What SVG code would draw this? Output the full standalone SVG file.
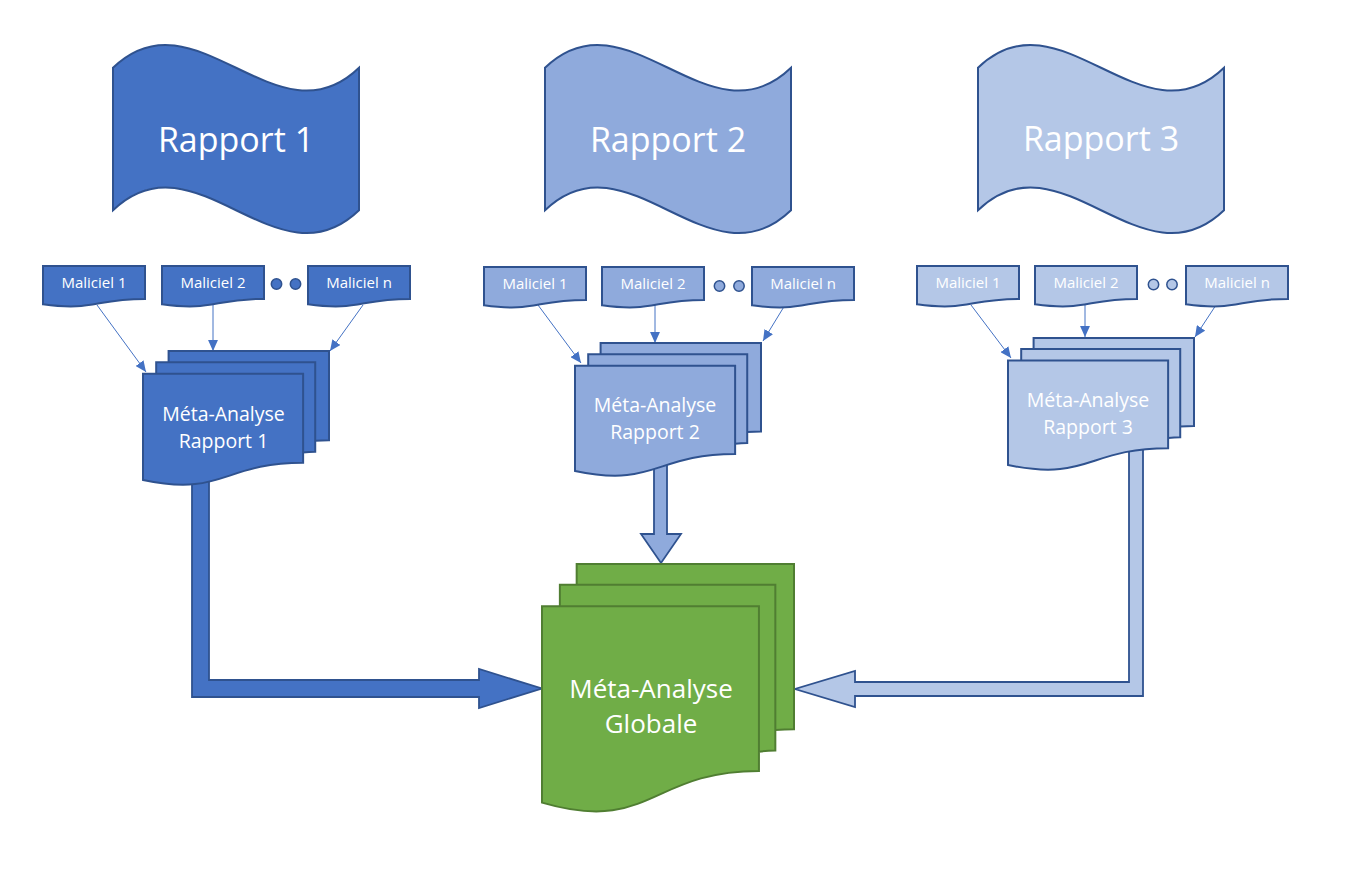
<svg xmlns="http://www.w3.org/2000/svg" xmlns:xlink="http://www.w3.org/1999/xlink" width="1352" height="875" viewBox="0 0 1352 875">
  <defs>
    <style>
      .outline { stroke: #2F528F; stroke-width: 2; stroke-linejoin: miter; }
      .green { fill: #70AD47; stroke: #507E32; stroke-width: 2; }
      .c1 { fill: #4472C4; }
      .c2 { fill: #8FAADC; }
      .c3 { fill: #B4C7E7; }
      .ns { vector-effect: non-scaling-stroke; }
      .big { font-family: 'Open Sans', 'Noto Sans', sans-serif; font-size: 34px; fill: #FFFFFF; text-anchor: middle; }
      .mid { font-family: 'Open Sans', 'Noto Sans', sans-serif; font-size: 19.5px; fill: #FFFFFF; text-anchor: middle; }
      .glob { font-family: 'Open Sans', 'Noto Sans', sans-serif; font-size: 26px; fill: #FFFFFF; text-anchor: middle; }
      .small { font-family: 'Open Sans', 'Noto Sans', sans-serif; font-size: 15px; fill: #FFFFFF; text-anchor: middle; }
      .thin { stroke: #4472C4; stroke-width: 1; fill: none; }
      .block { stroke: #2F528F; stroke-width: 1.8; stroke-linejoin: miter; }
    </style>
    <path id="wave" d="M0,67.75 C82,-11.4 164,146.9 246,67.75 L246,210.25 C164,289.4 82,131 0,210.25 Z"/>
    <path id="doc" d="M0,0 L102,0 L102,32.9 C51,32.9 51,45.4 0,38.3 Z"/>
    <marker id="ah" markerUnits="userSpaceOnUse" markerWidth="11" markerHeight="10" refX="10" refY="4.5" orient="auto" viewBox="0 0 10 9">
      <path d="M0,0 L10,4.5 L0,9 Z" fill="#4472C4"/>
    </marker>
  </defs>

  <g id="connectors">
    <polygon class="block c1" points="192,470 209,470 209,680 479,680 479,669 542,688.5 479,708 479,697 192,697"/>
    <polygon class="block c2" points="654,460 667,460 667,534 681,534 661,563 641,534 654,534"/>
    <polygon class="block c3" points="1129,445 1143,445 1143,682 1143,696 855,696 855,707 795,689 855,671 855,682 1129,682"/>
    <line class="thin" x1="97" y1="305" x2="146" y2="372" marker-end="url(#ah)"/>
    <line class="thin" x1="213" y1="305" x2="213" y2="351" marker-end="url(#ah)"/>
    <line class="thin" x1="363" y1="305" x2="330" y2="351" marker-end="url(#ah)"/>
    <line class="thin" x1="538" y1="305" x2="581" y2="363" marker-end="url(#ah)"/>
    <line class="thin" x1="655" y1="305" x2="655" y2="343" marker-end="url(#ah)"/>
    <line class="thin" x1="785" y1="305" x2="763" y2="341" marker-end="url(#ah)"/>
    <line class="thin" x1="971" y1="305" x2="1011" y2="358" marker-end="url(#ah)"/>
    <line class="thin" x1="1085" y1="305" x2="1085" y2="337" marker-end="url(#ah)"/>
    <line class="thin" x1="1216" y1="305" x2="1195" y2="337" marker-end="url(#ah)"/>
  </g>

  <g id="rapport1">
    <use xlink:href="#wave" href="#wave" x="113" y="0" class="outline c1"/>
    <text class="big" x="236" y="152">Rapport 1</text>
  </g>
  <g id="rapport2">
    <use xlink:href="#wave" href="#wave" x="545" y="0" class="outline c2"/>
    <text class="big" x="668" y="152">Rapport 2</text>
  </g>
  <g id="rapport3">
    <use xlink:href="#wave" href="#wave" x="978" y="0" class="outline c3"/>
    <text class="big" x="1101" y="151">Rapport 3</text>
  </g>

  <g id="r1-maliciel1">
    <use xlink:href="#doc" href="#doc" x="43" y="266" class="outline c1"/>
    <text class="small" x="94" y="288">Maliciel 1</text>
  </g>
  <g id="r1-maliciel2">
    <use xlink:href="#doc" href="#doc" x="162" y="266" class="outline c1"/>
    <text class="small" x="213" y="288">Maliciel 2</text>
  </g>
  <g id="r1-dots">
    <circle cx="276.5" cy="284" r="5.2" class="c1" stroke="#2F528F" stroke-width="1.5"/>
    <circle cx="295.5" cy="284" r="5.2" class="c1" stroke="#2F528F" stroke-width="1.5"/>
  </g>
  <g id="r1-malicieln">
    <use xlink:href="#doc" href="#doc" x="308" y="266" class="outline c1"/>
    <text class="small" x="359" y="288">Maliciel n</text>
  </g>

  <g id="r2-maliciel1">
    <use xlink:href="#doc" href="#doc" x="484" y="267" class="outline c2"/>
    <text class="small" x="535" y="289">Maliciel 1</text>
  </g>
  <g id="r2-maliciel2">
    <use xlink:href="#doc" href="#doc" x="602" y="267" class="outline c2"/>
    <text class="small" x="653" y="289">Maliciel 2</text>
  </g>
  <g id="r2-dots">
    <circle cx="719.5" cy="286" r="5.2" class="c2" stroke="#2F528F" stroke-width="1.5"/>
    <circle cx="739" cy="286" r="5.2" class="c2" stroke="#2F528F" stroke-width="1.5"/>
  </g>
  <g id="r2-malicieln">
    <use xlink:href="#doc" href="#doc" x="752" y="267" class="outline c2"/>
    <text class="small" x="803" y="289">Maliciel n</text>
  </g>

  <g id="r3-maliciel1">
    <use xlink:href="#doc" href="#doc" x="917" y="266" class="outline c3"/>
    <text class="small" x="968" y="288">Maliciel 1</text>
  </g>
  <g id="r3-maliciel2">
    <use xlink:href="#doc" href="#doc" x="1035" y="266" class="outline c3"/>
    <text class="small" x="1086" y="288">Maliciel 2</text>
  </g>
  <g id="r3-dots">
    <circle cx="1153.5" cy="284.5" r="5.2" class="c3" stroke="#2F528F" stroke-width="1.5"/>
    <circle cx="1172" cy="284.5" r="5.2" class="c3" stroke="#2F528F" stroke-width="1.5"/>
  </g>
  <g id="r3-malicieln">
    <use xlink:href="#doc" href="#doc" x="1186" y="266" class="outline c3"/>
    <text class="small" x="1237" y="288">Maliciel n</text>
  </g>

  <g id="meta1">
    <path class="outline c1 ns" transform="translate(143,351) scale(0.0086111,0.0062037)" d="M0,20782 C9298,23542 9298,18022 18595,18022 L18595,3675 L0,3675 Z M1532,3675 L1532,1815 L20000,1815 L20000,16252 C19298,16252 18595,16352 18595,16352 L18595,3675 Z M2972,1815 L2972,0 L21600,0 L21600,14392 C20800,14392 20000,14467 20000,14467 L20000,1815 Z"/>
    <text class="mid" x="223.5" y="421">Méta-Analyse</text>
    <text class="mid" x="223.5" y="448">Rapport 1</text>
  </g>
  <g id="meta2">
    <path class="outline c2 ns" transform="translate(575,343) scale(0.0086111,0.0061574)" d="M0,20782 C9298,23542 9298,18022 18595,18022 L18595,3675 L0,3675 Z M1532,3675 L1532,1815 L20000,1815 L20000,16252 C19298,16252 18595,16352 18595,16352 L18595,3675 Z M2972,1815 L2972,0 L21600,0 L21600,14392 C20800,14392 20000,14467 20000,14467 L20000,1815 Z"/>
    <text class="mid" x="655" y="412">Méta-Analyse</text>
    <text class="mid" x="655" y="439">Rapport 2</text>
  </g>
  <g id="meta3">
    <path class="outline c3 ns" transform="translate(1008,338) scale(0.0086111,0.0061111)" d="M0,20782 C9298,23542 9298,18022 18595,18022 L18595,3675 L0,3675 Z M1532,3675 L1532,1815 L20000,1815 L20000,16252 C19298,16252 18595,16352 18595,16352 L18595,3675 Z M2972,1815 L2972,0 L21600,0 L21600,14392 C20800,14392 20000,14467 20000,14467 L20000,1815 Z"/>
    <text class="mid" x="1088" y="407">Méta-Analyse</text>
    <text class="mid" x="1088" y="434">Rapport 3</text>
  </g>

  <g id="meta-globale">
    <path class="green ns" transform="translate(542,564) scale(0.0116667,0.0114815)" d="M0,20782 C9298,23542 9298,18022 18595,18022 L18595,3675 L0,3675 Z M1532,3675 L1532,1815 L20000,1815 L20000,16252 C19298,16252 18595,16352 18595,16352 L18595,3675 Z M2972,1815 L2972,0 L21600,0 L21600,14392 C20800,14392 20000,14467 20000,14467 L20000,1815 Z"/>
    <text class="glob" x="651" y="698">Méta-Analyse</text>
    <text class="glob" x="651" y="733">Globale</text>
  </g>
</svg>
